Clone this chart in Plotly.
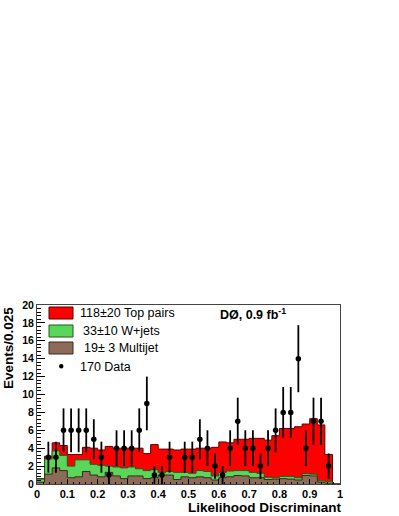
import numpy as np
import plotly.graph_objects as go

# per-bin contents, 40 bins of width 0.025 on [0, 1]
bin_width = 0.025
multijet = [0.2, 1.1, 1.8, 1.5, 0.7, 0.8, 1.4, 1.0, 0.8, 1.3,
            0.9, 0.6, 0.9, 0.9, 0.6, 0.7, 1.0, 1.0, 0.5, 0.8,
            0.7, 0.8, 0.7, 0.45, 0.7, 0.8, 0.95, 0.9, 0.7, 0.7,
            0.5, 0.55, 0.6, 0.55, 0.45, 0.95, 0.9, 0.2, 0.1, 0.0]
wjets = [0.35, 1.7, 1.9, 1.7, 1.3, 1.9, 1.3, 1.2, 1.3, 0.7,
         1.0, 1.2, 1.0, 0.8, 0.9, 0.9, 0.3, 0.4, 0.8, 0.5,
         0.5, 0.7, 0.7, 0.45, 0.6, 0.65, 0.55, 0.6, 0.6, 0.5,
         0.25, 0.15, 0.25, 0.3, 0.25, 0.2, 0.2, 0.15, 0.2, 0.0]
top_pairs = [0.05, 0.3, 0.9, 1.1, 1.3, 0.6, 1.4, 1.8, 1.7, 2.2,
             2.1, 2.2, 2.1, 2.3, 1.9, 2.8, 2.6, 2.5, 2.5, 2.6,
             2.7, 2.5, 2.6, 3.2, 3.4, 3.15, 3.5, 3.5, 3.8, 3.9,
             4.15, 4.7, 5.35, 5.35, 5.7, 5.55, 6.2, 6.25, 3.0, 0.0]
data = [0, 3, 3, 6, 6, 6, 6, 5, 3, 1,
        4, 4, 4, 6, 9, 1, 1, 3, 0, 3,
        3, 5, 4, 2, 1, 4, 7, 4, 4, 2,
        4, 6, 8, 8, 14, 4, 7, 7, 2, 0]

legend_labels = ["118\u00b120 Top pairs", "33\u00b110 W+jets", "19\u00b1 3 Multijet", "170 Data"]

n_bins = len(data)
edges = np.arange(n_bins + 1) * bin_width
centers = edges[:-1] + bin_width / 2

mj = np.array(multijet)
wj = mj + np.array(wjets)
tt = wj + np.array(top_pairs)

RED, GREEN, BROWN = "#ff0000", "#5ad65a", "#8c6b59"

fig = go.Figure()


def step(values, fill, line):
    y = np.append(values, values[-1])
    fig.add_trace(go.Scatter(x=edges, y=y, mode="lines", line_shape="hv",
                             fill="tozeroy", fillcolor=fill,
                             line=dict(color=line, width=1), hoverinfo="skip",
                             showlegend=False))


step(tt, RED, "#5a0000")
step(wj, GREEN, "#1f5a1f")
step(mj, BROWN, "#3a2a20")

d = np.array(data, dtype=float)
mask = d > 0
fig.add_trace(go.Scatter(
    x=centers[mask], y=d[mask], mode="markers",
    marker=dict(color="black", size=5.5),
    error_y=dict(type="data", array=np.sqrt(d[mask]), width=0, thickness=1.8, color="black"),
    showlegend=False,
))

# plot frame in screen pixels
L, R, T, B = 37, 340, 305, 484


def px(x):
    return (x - L) / (R - L)


def py(y):
    return (B - y) / (B - T)


# legend boxes
for (y0, y1), col, lc in zip([(307, 319), (325, 337), (342, 354)],
                             [RED, GREEN, BROWN], ["#5a0000", "#1f5a1f", "#3a2a20"]):
    fig.add_shape(type="rect", xref="paper", yref="paper",
                  x0=px(49), x1=px(73), y0=py(y1), y1=py(y0),
                  fillcolor=col, line=dict(color=lc, width=1))
fig.add_shape(type="circle", xref="paper", yref="paper",
              x0=px(59), x1=px(63.5), y0=py(368.5), y1=py(364),
              fillcolor="black", line=dict(color="black", width=0))

for txt, x0, yc in zip(legend_labels, [77.5, 81, 81.5, 77.5], [313.3, 330.7, 348.3, 366.7]):
    fig.add_annotation(text=txt, xref="paper", yref="paper", x=px(x0), y=py(yc),
                       xanchor="left", yanchor="middle", showarrow=False,
                       font=dict(family="Liberation Sans, Arial", size=12.5, color="black"))

fig.add_annotation(text="<b>D\u00d8, 0.9 fb<sup>-1</sup></b>", xref="paper", yref="paper",
                   x=px(253), y=py(314), xanchor="center", yanchor="middle", showarrow=False,
                   font=dict(family="Liberation Sans, Arial", size=12.5, color="black"))

# axis titles
fig.add_annotation(text="<b>Events/0.025</b>", xref="paper", yref="paper",
                   x=0, y=1, xshift=-(L - 8), xanchor="center", yanchor="top",
                   textangle=-90, showarrow=False,
                   font=dict(family="Liberation Sans, Arial", size=13.5, color="black"))
fig.add_annotation(text="<b>Likelihood Discriminant</b>", xref="paper", yref="paper",
                   x=1, y=0, xshift=4, yshift=-23.5, xanchor="right", yanchor="middle",
                   showarrow=False,
                   font=dict(family="Liberation Sans, Arial", size=13.5, color="black"))

tickfont = dict(family="Liberation Sans, Arial", size=11, color="black", weight="bold")
fig.update_xaxes(range=[0, 1], tickvals=[0, 0.1, 0.2, 0.3, 0.4, 0.5, 0.6, 0.7, 0.8, 0.9, 1],
                 ticktext=["0", "0.1", "0.2", "0.3", "0.4", "0.5", "0.6", "0.7", "0.8", "0.9", "1"],
                 ticks="inside", ticklen=5, tickcolor="black", tickfont=tickfont,
                 minor=dict(ticks="inside", ticklen=2.5, dtick=0.02, tickcolor="black"),
                 showline=True, linecolor="#444", linewidth=1, mirror=True,
                 showgrid=False, zeroline=False)
fig.update_yaxes(range=[0, 20], dtick=2, ticks="inside", ticklen=8, tickcolor="black",
                 tickfont=dict(family="Liberation Sans, Arial", size=10.5, color="black", weight="bold"),
                 minor=dict(ticks="inside", ticklen=4, dtick=0.4, tickcolor="black"),
                 showline=True, linecolor="#444", linewidth=1, mirror=True,
                 showgrid=False, zeroline=False)

fig.update_layout(
    width=399, height=516,
    margin=dict(l=L, r=399 - R, t=T, b=516 - B),
    paper_bgcolor="white", plot_bgcolor="white",
    showlegend=False,
)

# drop the default body margin so the figure sits at the window origin
fig.write_html("out.html", config={"displayModeBar": False},
               post_script="document.body.style.margin='0px';")
